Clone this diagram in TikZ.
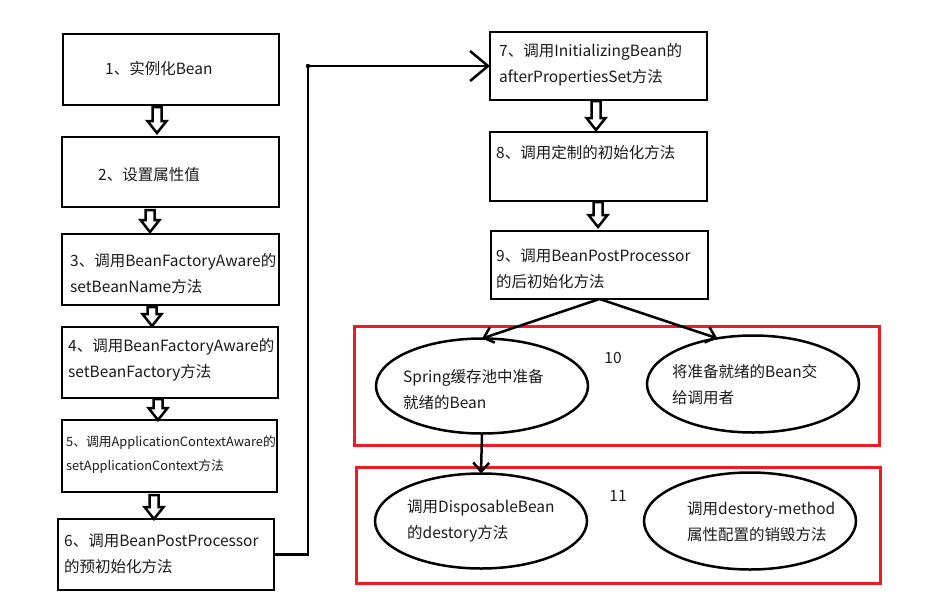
\documentclass[tikz,border=0pt]{standalone}
\usepackage{fontspec}
\setmainfont{Noto Sans CJK SC}
\usetikzlibrary{shapes.geometric,arrows.meta}
\definecolor{redbox}{HTML}{ED1C24}
\definecolor{txtcol}{HTML}{1A1A1A}
\tikzset{
  box/.style={draw, line width=2.5pt, rectangle, inner sep=0pt, outer sep=0pt},
  ell/.style={draw, line width=2.5pt, ellipse, minimum width=212pt, minimum height=95pt, inner sep=0pt, outer sep=0pt},
  redframe/.style={draw=redbox, line width=3pt, rectangle, inner sep=0pt},
  txt/.style={anchor=west, align=left, inner sep=0pt, text=txtcol, font=\fontsize{15.5}{26}\selectfont},
  smalltxt/.style={anchor=west, align=left, inner sep=0pt, text=txtcol, font=\fontsize{12.8}{24}\selectfont},
  conn/.style={line width=2.5pt},
  barb/.style={-{Straight Barb[length=9pt,width=16pt]}},
  bigbarb/.style={-{Straight Barb[length=18pt,width=30pt]}},
  pics/blkdown/.style={code={
    \draw[line width=2.5pt, fill=white, line join=miter]
      (-4.5,0) -- (4.5,0) -- (4.5,#1-12) -- (9.5,#1-12) -- (0,#1)
      -- (-9.5,#1-12) -- (-4.5,#1-12) -- cycle;
  }}
}
\begin{document}
\begin{tikzpicture}[x=1pt,y=-1pt]
\useasboundingbox (0,0) rectangle (927,606);
% red frames
\node[redframe, minimum width=525pt, minimum height=119pt] (r10) at (616.5,385.5) {};
\node[redframe, minimum width=524pt, minimum height=116pt] (r11) at (618,525) {};
% left column boxes
\node[box, minimum width=216pt, minimum height=71pt] (b1) at (171,69.5) {};
\node[box, minimum width=217pt, minimum height=70pt] (b2) at (170.5,172) {};
\node[box, minimum width=217pt, minimum height=71pt] (b3) at (170.5,269.5) {};
\node[box, minimum width=216pt, minimum height=71pt] (b4) at (170,362.5) {};
\node[box, minimum width=215pt, minimum height=72pt] (b5) at (169.5,456) {};
\node[box, minimum width=216pt, minimum height=71pt] (b6) at (166,554.5) {};
% right column boxes
\node[box, minimum width=217pt, minimum height=68pt] (b7) at (598.5,66) {};
\node[box, minimum width=217pt, minimum height=69pt] (b8) at (598.5,166.5) {};
\node[box, minimum width=217pt, minimum height=68pt] (b9) at (599.5,265) {};
% ellipses
\node[ell] (e1) at (482,386) {};
\node[ell, minimum height=97pt] (e2) at (753,384) {};
\node[ell] (e3) at (481,521) {};
\node[ell, minimum height=97pt] (e4) at (750,521) {};
% texts
\node[txt] (t1) at (105,69) {1、实例化Bean};
\node[txt] (t2) at (98,175) {2、设置属性值};
\node[txt] (t3) at (70,273.5) {3、调用BeanFactoryAware的\\setBeanName方法};
\node[txt] (t4) at (68,360) {4、调用BeanFactoryAware的\\setBeanFactory方法};
\node[smalltxt] (t5) at (66,455) {5、调用ApplicationContextAware的\\setApplicationContext方法};
\node[txt] (t6) at (64,553.5) {6、调用BeanPostProcessor\\的预初始化方法};
\node[txt] (t7) at (499,65) {7、调用InitializingBean的\\afterPropertiesSet方法};
\node[txt] (t8) at (496,153) {8、调用定制的初始化方法};
\node[txt] (t9) at (496,268.5) {9、调用BeanPostProcessor\\的后初始化方法};
\node[txt] (te1) at (403,390) {Spring缓存池中准备\\就绪的Bean};
\node[txt] (te2) at (672,385) {将准备就绪的Bean交\\给调用者};
\node[txt] (te3) at (407,520.5) {调用DisposableBean\\的destory方法};
\node[txt] (te4) at (687,522) {调用destory-method\\属性配置的销毁方法};
\node[txt, anchor=center] (n10) at (613,358) {10};
\node[txt, anchor=center] (n11) at (618,496) {11};
% block arrows
\pic at (157,107) {blkdown=26};
\pic at (150,210) {blkdown=22};
\pic at (152,307) {blkdown=19};
\pic at (158,399) {blkdown=21};
\pic at (154,495) {blkdown=24};
\pic at (596,101) {blkdown=29};
\pic at (598,202) {blkdown=25};
% connectors
\coordinate (c1) at (308,66);
\draw[conn, bigbarb] (b6.east) -| (c1) -- (b7.west);
\fill (c1) circle (2.2);
\draw[conn, barb] (b9.south) -- (e1.north);
\draw[conn, barb] (b9.south) -- (e2.128);
\draw[conn, barb] (e1.south) -- (e3.north);
\end{tikzpicture}
\end{document}
